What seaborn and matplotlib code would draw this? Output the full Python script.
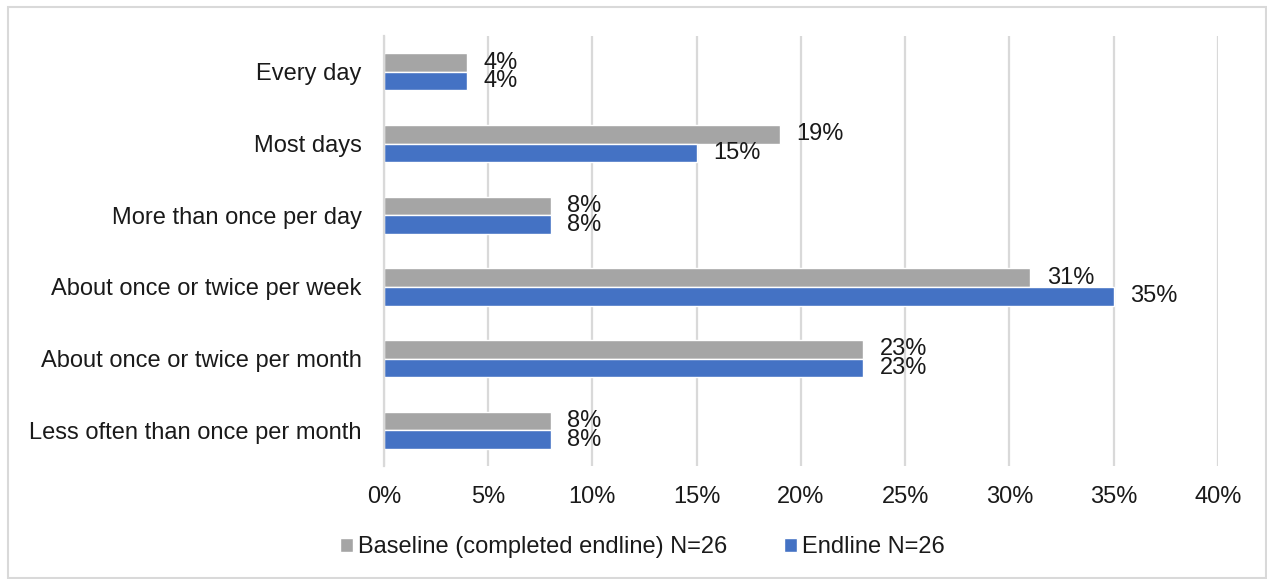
import matplotlib
matplotlib.use("Agg")
import matplotlib.pyplot as plt
import seaborn as sns
import pandas as pd
from matplotlib.patches import Rectangle

# Frequency categories (top to bottom)
categories = [
    "Every day",
    "Most days",
    "More than once per day",
    "About once or twice per week",
    "About once or twice per month",
    "Less often than once per month",
]
baseline_pct = [4, 19, 8, 31, 23, 8]
endline_pct = [4, 15, 8, 35, 23, 8]
series_names = ["Baseline (completed endline) N=26", "Endline N=26"]
x_ticks = [0, 5, 10, 15, 20, 25, 30, 35, 40]

colors = ["#A5A5A5", "#4472C4"]
FS = 17
TXT = "#1a1a1a"

df = pd.DataFrame({
    "Category": categories * 2,
    "Series": [series_names[0]] * len(categories) + [series_names[1]] * len(categories),
    "Percent": baseline_pct + endline_pct,
})

sns.set_theme(style="white")
plt.rcParams["font.family"] = ["Liberation Sans", "DejaVu Sans"]

fig = plt.figure(figsize=(12.67, 5.79), dpi=100)
ax = fig.add_axes([0.303, 0.195, 0.9613 - 0.303, 0.9378 - 0.195])

sns.barplot(
    data=df, y="Category", x="Percent", hue="Series",
    order=categories, hue_order=series_names,
    palette=colors, orient="h", width=0.52, gap=0,
    saturation=1, errorbar=None, ax=ax, legend=True,
)

ax.set_xlim(0, 40)
ax.set_xticks(x_ticks)
ax.set_xticklabels([f"{t}%" for t in x_ticks], fontsize=FS, color=TXT)
ax.tick_params(axis="y", labelsize=FS, labelcolor=TXT, length=0, pad=16)
ax.tick_params(axis="x", length=0, pad=14)
ax.set_xlabel("")
ax.set_ylabel("")
ax.set_ylim(len(categories) - 0.5, -0.5)

# vertical gridlines
ax.grid(axis="x", color="#D9D9D9", linewidth=1.6)
ax.set_axisbelow(True)
for side in ["top", "right", "bottom"]:
    ax.spines[side].set_visible(False)
ax.spines["left"].set_color("#D9D9D9")
ax.spines["left"].set_linewidth(1.6)

# value labels at the end of each bar
for container in ax.containers:
    for patch in container:
        val = patch.get_width()
        yc = patch.get_y() + patch.get_height() / 2
        ax.annotate(f"{val:.0f}%", xy=(val, yc), xytext=(12, 0),
                    textcoords="offset points", ha="left", va="center",
                    fontsize=FS, color=TXT)

# legend below the plot
leg = ax.legend(
    loc="center", bbox_to_anchor=(0.507, 0.055), bbox_transform=fig.transFigure,
    ncol=2, frameon=False, fontsize=FS, handlelength=0.55, handleheight=0.55,
    handletextpad=0.2, columnspacing=2.4,
)
for txt in leg.get_texts():
    txt.set_color(TXT)

# chart border
fig.patches.append(Rectangle((8 / 1267, 1 / 579), 1 - 9 / 1267, 1 - 8 / 579,
                             transform=fig.transFigure, fill=False,
                             edgecolor="#D9D9D9", linewidth=1.5))

fig.savefig("out.png", dpi=100)
